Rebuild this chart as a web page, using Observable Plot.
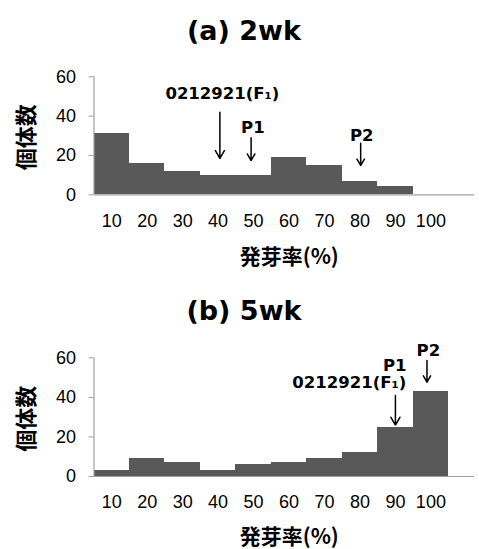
<!DOCTYPE html>
<html>
<head>
<meta charset="utf-8">
<script src="https://cdn.jsdelivr.net/npm/d3@7"></script>
<script src="https://cdn.jsdelivr.net/npm/@observablehq/plot@0.6"></script>
<style>
  body { margin: 0; background: #fff; }
  .panel { position: relative; width: 479px; }
  .title { height: 55px; box-sizing: border-box; padding-top: 5px; padding-left: 9px;
    display: flex; align-items: center; justify-content: center;
    font-family: "DejaVu Sans", sans-serif; font-weight: bold; font-size: 27px; color: #000; }
  svg { display: block; }
</style>
</head>
<body>
<div id="chart"></div>
<script>
// Germination rate classes (%)
const rates = [10, 20, 30, 40, 50, 60, 70, 80, 90, 100];
// Number of individuals per class
const counts2wk = [31, 16, 12, 10, 10, 19, 15, 7, 4, 0];
const counts5wk = [3, 9, 7, 3, 6, 7, 9, 12, 25, 43];
const yTicks = [0, 20, 40, 60];
const titles = ["(a) 2wk", "(b) 5wk"];
const xLabel = "発芽率(%)";
const yLabel = "個体数";
// Annotations (label, arrow x in %, text x/y, arrow from y1 to y2) in data units
const notes2wk = [
  {label: "0212921(F₁)", x: 40.5, tx: 41.2, ty: 51.3, y1: 42, y2: 18.5},
  {label: "P1", x: 49.3, tx: 49.8, ty: 34, y1: 29, y2: 17.4},
  {label: "P2", x: 80.2, tx: 80.5, ty: 30.1, y1: 26.2, y2: 14.9}
];
const notes5wk = [
  {label: "0212921(F₁)", x: 90, tx: 77, ty: 47.3, y1: 41, y2: 26},
  {label: "P1", x: 90, tx: 89.8, ty: 56.1, y1: null, y2: null},
  {label: "P2", x: 98.9, tx: 99.3, ty: 63.7, y1: 58.6, y2: 47.7}
];

const axisGray = "#a0a0a0";
const barFill = "#595959";
const latin = "'Liberation Sans', Arial, sans-serif";
const bold = "'DejaVu Sans', Verdana, sans-serif";
const cjk = "'Noto Sans CJK JP', sans-serif";

function panel(counts, notes, title, height, marginTop, marginBottom, labelDy) {
  const data = rates.map((r, i) => ({rate: r, count: counts[i]}));
  const arrows = notes.filter(d => d.y1 != null);
  const wrap = document.createElement("div");
  wrap.className = "panel";
  const t = document.createElement("div");
  t.className = "title";
  t.textContent = title;
  wrap.appendChild(t);
  const chart = Plot.plot({
    width: 479,
    height,
    marginLeft: 93.5,
    marginRight: 5,
    marginTop,
    marginBottom,
    style: {background: "#fff", overflow: "visible"},
    x: {domain: [5, 112.3]},
    y: {domain: [0, 60]},
    marks: [
      Plot.rectY(data, {x1: d => d.rate - 5, x2: d => d.rate + 5, y: "count", fill: barFill, shapeRendering: "crispEdges"}),
      Plot.ruleY([0], {stroke: axisGray, strokeWidth: 1.2}),
      Plot.ruleX([5], {y1: 0, y2: 60, stroke: axisGray, strokeWidth: 1.2}),
      Plot.axisY({ticks: yTicks, tickSize: 5, tickPadding: 13, stroke: axisGray, fontSize: 18, fontFamily: latin, fill: "#000", label: null, tickFormat: d => d}),
      Plot.axisX({ticks: rates, tickSize: 0, tickPadding: 19, fontSize: 18, fontFamily: latin, fill: "#000", label: null, tickFormat: d => d}),
      Plot.text([xLabel], {frameAnchor: "bottom", lineAnchor: "middle", textAnchor: "middle", dx: 5, dy: labelDy, fontSize: 21, fontWeight: "bold", fontFamily: cjk, fill: "#000"}),
      Plot.text([yLabel], {frameAnchor: "left", textAnchor: "middle", lineAnchor: "middle", rotate: -90, dx: -67, dy: 1.5, fontSize: 22, fontWeight: "bold", fontFamily: cjk, fill: "#000"}),
      Plot.arrow(arrows, {x: "x", y1: "y1", y2: "y2", stroke: "#000", strokeWidth: 1.5, headLength: 9, headAngle: 60}),
      Plot.text(notes, {x: "tx", y: "ty", text: "label", fontSize: 16.5, fontWeight: "bold", fontFamily: bold, fill: "#000"})
    ]
  });
  wrap.appendChild(chart);
  return wrap;
}

const root = document.getElementById("chart");
root.appendChild(panel(counts2wk, notes2wk, titles[0], 225, 21.3, 85.7, 62));
root.appendChild(panel(counts5wk, notes5wk, titles[1], 214, 22.3, 73, 60.5));
</script>
</body>
</html>
